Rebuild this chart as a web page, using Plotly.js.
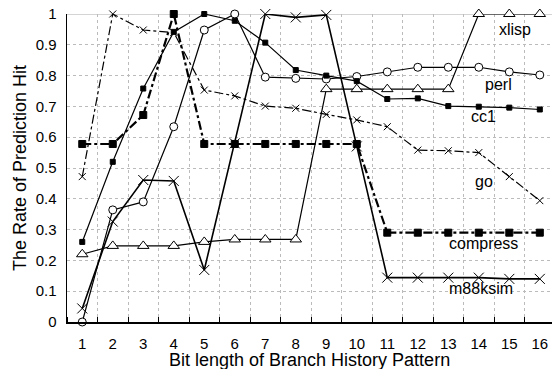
<!DOCTYPE html>
<html><head><meta charset="utf-8">
<script src="https://cdn.plot.ly/plotly-3.0.1.min.js"></script>
<style>html,body{margin:0;padding:0;background:#fff}#chart{width:552px;height:369px}</style>
</head><body><div id="chart"></div>
<script>
const bits = [1,2,3,4,5,6,7,8,9,10,11,12,13,14,15,16];
const xlisp = [0.22,0.247,0.247,0.247,0.26,0.268,0.268,0.268,0.756,0.756,0.756,0.756,0.756,1.0,1.0,1.0];
const perl = [0.0,0.364,0.39,0.634,0.948,1.0,0.795,0.791,0.789,0.797,0.812,0.827,0.827,0.827,0.812,0.802];
const cc1 = [0.26,0.52,0.758,0.942,1.0,0.978,0.907,0.818,0.80,0.782,0.724,0.726,0.701,0.699,0.696,0.69];
const go = [0.472,1.0,0.948,0.94,0.753,0.734,0.701,0.694,0.674,0.656,0.634,0.558,0.556,0.55,0.472,0.394];
const compress = [0.578,0.578,0.672,1.0,0.578,0.578,0.578,0.578,0.578,0.578,0.29,0.29,0.29,0.29,0.29,0.29];
const m88ksim = [0.044,0.326,0.461,0.458,0.169,0.58,1.0,0.989,0.997,0.57,0.144,0.144,0.144,0.144,0.14,0.14];
const names = ["xlisp","perl","cc1","go","compress","m88ksim"];
const labelX = [15.18,14.65,14.16,14.16,14.16,14.06];
const labelY = [0.951,0.77,0.666,0.455,0.256,0.11];
const halfTicks = [0.5,1.5,2.5,3.5,4.5,5.5,6.5,7.5,8.5,9.5,10.5,11.5,12.5,13.5,14.5,15.5,16.5];

function tr(y, sym, size, width, dash, fill){
  return {x: bits, y: y, type:'scatter', mode:'lines+markers', cliponaxis:false,
    line:{color:'#000', width:width, dash:dash},
    marker:{symbol:sym, size:size, color: fill,
      line:{color:'#000', width:1}}};
}
const data = [
  tr(xlisp,'triangle-up',10,1.2,'solid','#fff'),
  tr(perl,'circle',8,1.2,'solid','#fff'),
  tr(cc1,'square',5,1.2,'solid','#000'),
  tr(go,'x-thin-open',7,1.2,'dashdot','#000'),
  tr(m88ksim,'x-thin-open',10,1.6,'solid','#000'),
  tr(compress,'square',7,2.2,'dashdot','#000')
];
const font = {family:'Liberation Sans, Arial, sans-serif', size:15, color:'#000'};
const tfont = {family:'Liberation Sans, Arial, sans-serif', size:18, color:'#000'};
const lfont = {family:'Liberation Sans, Arial, sans-serif', size:16, color:'#000'};
const annotations = names.map((n,i)=>({x:labelX[i], y:labelY[i], text:n, showarrow:false,
  xref:'x', yref:'y', font:lfont}));
annotations.push({x:0.5, y:-0.122, xref:'paper', yref:'paper', yanchor:'middle', xanchor:'center',
  text:'Bit length of Branch History Pattern', showarrow:false, font:tfont});
const layout = {
  width:552, height:369, showlegend:false,
  paper_bgcolor:'#fff', plot_bgcolor:'#fff',
  margin:{l:67, r:0, t:14, b:47},
  font: font,
  xaxis:{range:[0.5,16.4], tickmode:'array', tickvals:bits, ticktext:bits.map(String),
    showgrid:false, ticks:'', zeroline:false, showline:true, linecolor:'#000', linewidth:1.5,
    tickfont:font, ticklabelstandoff:7,
    minor:{tickmode:'array', tickvals:halfTicks, showgrid:true, gridcolor:'#bbb', griddash:'dot', gridwidth:1,
      ticks:'inside', ticklen:5, tickcolor:'#000', tickwidth:1}},
  yaxis:{range:[0,1], tickmode:'array', tickvals:[0,0.1,0.2,0.3,0.4,0.5,0.6,0.7,0.8,0.9,1],
    ticktext:['0','0.1','0.2','0.3','0.4','0.5','0.6','0.7','0.8','0.9','1'],
    showgrid:true, gridcolor:'#bbb', griddash:'dot', gridwidth:1, zeroline:false,
    showline:true, linecolor:'#000', linewidth:1.5, ticks:'', tickfont:font, ticklabelstandoff:6,
    title:{text:'The Rate of Prediction Hit', font:tfont, standoff:4}},
  shapes:[{type:'line', xref:'paper', yref:'y', x0:0, x1:1, y0:1, y1:1, line:{color:'#aaa', width:1}, layer:'below'}],
  annotations: annotations
};
Plotly.newPlot('chart', data, layout, {staticPlot:true});
</script></body></html>
